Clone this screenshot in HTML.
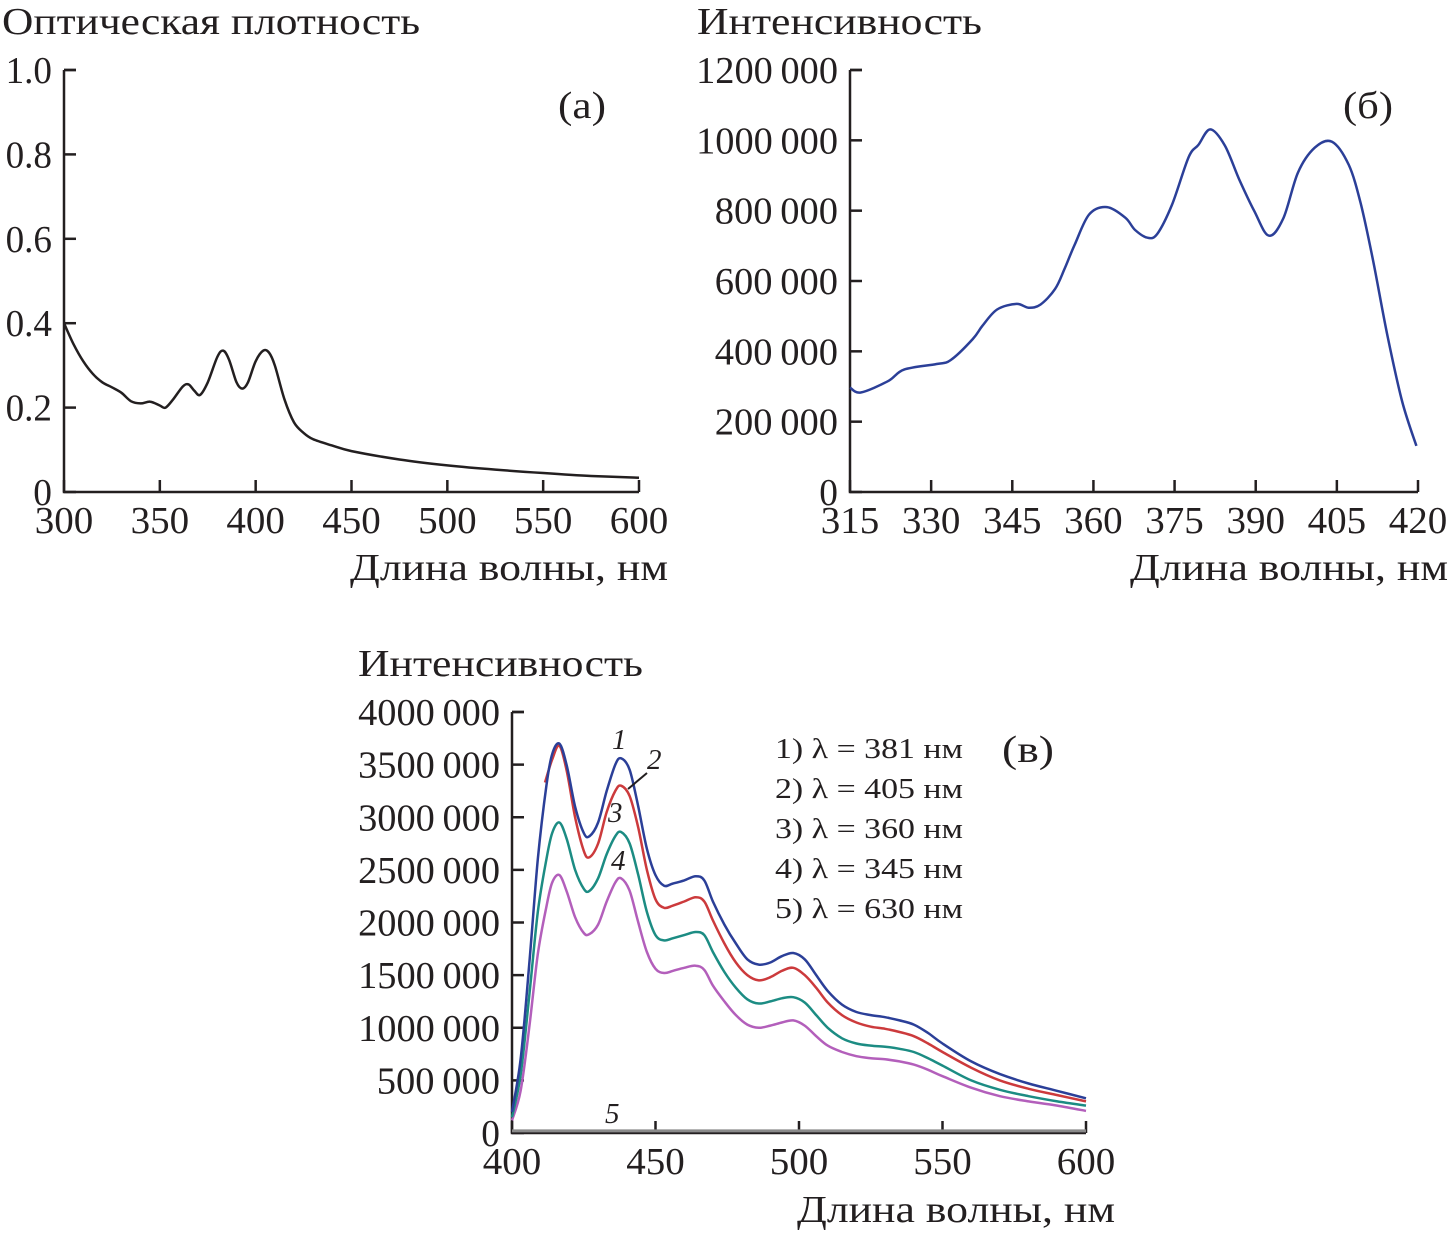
<!DOCTYPE html>
<html><head><meta charset="utf-8">
<style>
body{margin:0;background:#fff;}
svg{display:block;font-family:"Liberation Serif","DejaVu Serif",serif;}
.t{font-size:38px;fill:#231f20;}
.lg{font-size:29px;fill:#231f20;}
</style></head>
<body>
<svg id="s" width="1450" height="1234" viewBox="0 0 1450 1234"></svg>
<script>
// ---- Panel (a) data ----
const aX=[300,305,310,315,320,325,330,335,340,345,350,353,357,362,365,368,371,375,380,383,386,390,393,396,400,404,407,410,415,420,425,430,440,450,475,500,525,550,575,600];
const aY=[0.40,0.35,0.31,0.28,0.26,0.248,0.235,0.215,0.21,0.214,0.205,0.20,0.22,0.25,0.255,0.24,0.23,0.26,0.32,0.335,0.315,0.26,0.245,0.26,0.31,0.335,0.33,0.30,0.22,0.165,0.14,0.125,0.11,0.097,0.077,0.063,0.053,0.045,0.038,0.034];
const aXTicks=[300,350,400,450,500,550,600];
const aYTicks=[0,0.2,0.4,0.6,0.8,1.0];
const aYLabels=["0","0.2","0.4","0.6","0.8","1.0"];
// ---- Panel (b) data ----
const bX=[315,317,322,325,331,333.6,337.7,339.5,342.2,345.8,348,350.2,352.9,354.7,356.5,359.2,362.5,365.9,367.7,370,371.8,374.5,377.6,379.4,381.6,384.3,387,389.7,392.4,395.1,397.8,400.9,404.1,407.2,409.4,411.7,414.4,417.1,419.7];
const bY=[297000,283000,315000,348000,364000,375000,435000,473000,519000,535000,524000,533000,577000,636000,702000,789000,810000,780000,745000,723000,734000,816000,952000,987000,1031000,985000,887000,800000,729000,778000,908000,979000,996000,930000,821000,658000,441000,256000,131000];
const bXTicks=[315,330,345,360,375,390,405,420];
const bYTicks=[0,200000,400000,600000,800000,1000000,1200000];
const bYLabels=["0","200\u2009000","400\u2009000","600\u2009000","800\u2009000","1000\u2009000","1200\u2009000"];
// ---- Panel (c) data (millions) ----
const cX=[400,403,406,409,412,414,416.5,419,422,425,427,430,433,436,438,441,444,447,450,453,456,460,464,467,470,474,478,482,486,490,494,498,502,506,510,515,520,525,530,535,540,545,550,560,570,580,590,600];
const c1=[0.2,0.7,1.6,2.6,3.3,3.6,3.7,3.5,3.1,2.85,2.82,2.95,3.25,3.5,3.56,3.45,3.1,2.7,2.45,2.35,2.37,2.4,2.44,2.4,2.2,1.98,1.8,1.65,1.6,1.62,1.68,1.71,1.65,1.5,1.35,1.22,1.15,1.12,1.1,1.07,1.03,0.95,0.85,0.68,0.56,0.47,0.4,0.33];
const c2X=[411.5,414,416.5,419,422,425,427,430,433,436,438,441,444,447,450,453,456,460,464,467,470,474,478,482,486,490,494,498,502,506,510,515,520,525,530,535,540,545,550,560,570,580,590,600];
const c2=[3.33,3.55,3.68,3.45,3.0,2.68,2.62,2.75,3.05,3.25,3.3,3.2,2.9,2.5,2.22,2.14,2.16,2.2,2.24,2.2,2.02,1.8,1.62,1.5,1.45,1.48,1.54,1.57,1.5,1.38,1.24,1.12,1.05,1.01,0.99,0.96,0.92,0.85,0.77,0.62,0.5,0.42,0.36,0.3];
const c3=[0.15,0.55,1.3,2.1,2.6,2.85,2.95,2.8,2.5,2.32,2.3,2.42,2.65,2.82,2.86,2.75,2.45,2.1,1.88,1.83,1.85,1.88,1.91,1.88,1.72,1.53,1.38,1.27,1.23,1.25,1.28,1.29,1.24,1.12,1.0,0.9,0.85,0.83,0.82,0.8,0.77,0.71,0.64,0.5,0.41,0.35,0.3,0.26];
const c4=[0.12,0.4,1.0,1.7,2.15,2.38,2.45,2.3,2.05,1.9,1.89,1.98,2.2,2.38,2.42,2.3,2.0,1.72,1.56,1.52,1.54,1.57,1.59,1.55,1.4,1.25,1.12,1.03,1.0,1.02,1.05,1.07,1.02,0.92,0.83,0.77,0.73,0.71,0.7,0.68,0.65,0.6,0.54,0.43,0.35,0.3,0.26,0.21];
const c5X=[400,600];
const c5=[0.02,0.02];
const cXTicks=[400,450,500,550,600];
const cYTicks=[0,0.5,1,1.5,2,2.5,3,3.5,4];
const cYLabels=["0","500\u2009000","1000\u2009000","1500\u2009000","2000\u2009000","2500\u2009000","3000\u2009000","3500\u2009000","4000\u2009000"];
const legendLabels=["1) \u03bb = 381 нм","2) \u03bb = 405 нм","3) \u03bb = 360 нм","4) \u03bb = 345 нм","5) \u03bb = 630 нм"];

const NS="http://www.w3.org/2000/svg";
const svg=document.getElementById('s');
function el(tag,attrs,parent){const e=document.createElementNS(NS,tag);for(const k in attrs)e.setAttribute(k,attrs[k]);(parent||svg).appendChild(e);return e;}
function txt(str,x,y,cls,anchor,parent,extra){const e=el('text',Object.assign({x:x,y:y,class:cls,'text-anchor':anchor||'start'},extra||{}),parent);e.textContent=str;return e;}
function fit(e,w){e.setAttribute('textLength',w);e.setAttribute('lengthAdjust','spacingAndGlyphs');}
function smooth(pts){let d='M'+pts[0][0].toFixed(1)+','+pts[0][1].toFixed(1);for(let i=0;i<pts.length-1;i++){const p0=pts[i-1]||pts[i],p1=pts[i],p2=pts[i+1],p3=pts[i+2]||p2;const c1x=p1[0]+(p2[0]-p0[0])/6,c1y=p1[1]+(p2[1]-p0[1])/6,c2x=p2[0]-(p3[0]-p1[0])/6,c2y=p2[1]-(p3[1]-p1[1])/6;d+='C'+c1x.toFixed(1)+','+c1y.toFixed(1)+' '+c2x.toFixed(1)+','+c2y.toFixed(1)+' '+p2[0].toFixed(1)+','+p2[1].toFixed(1);}return d;}
function digitsWidth(s){const n=s.replace(/[^0-9]/g,'').length;const dots=(s.match(/\./g)||[]).length;return n*18.7+(s.indexOf('\u2009')>=0?11:0)+dots*9;}

function panel(cfg){
  const g=el('g',{});
  
  
  const sx=v=>cfg.x0+(v-cfg.xmin)/(cfg.xmax-cfg.xmin)*(cfg.x1-cfg.x0);
  const sy=v=>cfg.y0-(v-cfg.ymin)/(cfg.ymax-cfg.ymin)*(cfg.y0-cfg.y1);
  const ax=el('path',{d:`M${cfg.x0},${cfg.y1}V${cfg.y0}H${cfg.x1}`,stroke:'#231f20','stroke-width':2.5,fill:'none'},g);
  
  
  el('line',{x1:cfg.x0,x2:cfg.x0+12,y1:cfg.y1,y2:cfg.y1,stroke:'#231f20','stroke-width':2.5},g);
  cfg.xt.forEach(v=>{const x=sx(v);el('line',{x1:x,x2:x,y1:cfg.y0,y2:cfg.y0-12,stroke:'#231f20','stroke-width':2.5},g);
    const t=txt(String(v),x,cfg.y0+41,'t','middle',g);
    fit(t,String(v).length*19.5);
    
    });
  cfg.yt.forEach((v,i)=>{const y=sy(v);el('line',{x1:cfg.x0,x2:cfg.x0+12,y1:y,y2:y,stroke:'#231f20','stroke-width':2.5},g);
    const t=txt(cfg.yl[i],cfg.x0-12,y+13,'t','end',g);
    fit(t,digitsWidth(cfg.yl[i]));
    
    });
  cfg.series.forEach(s=>{const pts=s.x.map((xv,i)=>[sx(xv),sy(s.y[i])]);
    const p=el('path',{d:smooth(pts),stroke:s.c,'stroke-width':s.w||2.5,fill:'none'},g);
    
    });
  return {g,sx,sy};
}

panel({name:'chart-a',x0:64,x1:639,y0:492,y1:70,xmin:300,xmax:600,ymin:0,ymax:1,xt:aXTicks,yt:aYTicks,yl:aYLabels,
  series:[{x:aX,y:aY,c:'#231f20',name:'absorbance-line'}]});
panel({name:'chart-b',x0:850,x1:1418,y0:492,y1:70,xmin:315,xmax:420,ymin:0,ymax:1200000,xt:bXTicks,yt:bYTicks,yl:bYLabels,
  series:[{x:bX,y:bY,c:'#2b3f98',name:'excitation-line'}]});
panel({name:'chart-c',x0:512,x1:1086,y0:1133,y1:712,xmin:400,xmax:600,ymin:0,ymax:4,xt:cXTicks,yt:cYTicks,yl:cYLabels,
  series:[{x:c5X,y:c5,c:'#8a8a8a',name:'series-5',w:3},{x:cX,y:c4,c:'#b35fbb',name:'series-4'},{x:cX,y:c3,c:'#1c8c83',name:'series-3'},{x:c2X,y:c2,c:'#cc3a3c',name:'series-2'},{x:cX,y:c1,c:'#2b3f98',name:'series-1'}]});

function label(str,x,y,name,cls,anchor,extra,w){const t=txt(str,x,y,cls||'t',anchor||'start',svg,extra);
  if(w)fit(t,w);
  
  return t;}
label('Оптическая плотность',2,34,'y-axis-title-a','t','start',null,418);
label('(а)',558,118,'panel-label-a','t','start',null,48);
label('Длина волны, нм',668,580,'x-axis-title-a','t','end',null,318);
label('Интенсивность',697,34,'y-axis-title-b','t','start',null,285);
label('(б)',1343,118,'panel-label-b','t','start',null,50);
label('Длина волны, нм',1448,580,'x-axis-title-b','t','end',null,318);
label('Интенсивность',358,676,'y-axis-title-c','t','start',null,285);
label('(в)',1002,762,'panel-label-c','t','start',null,52);
label('Длина волны, нм',1115,1222,'x-axis-title-c','t','end',null,318);
legendLabels.forEach((s,i)=>{label(s,775,758+i*40,'legend-entry','lg','start',null,188);});
label('1',612,749,'curve-label-1','lg','start',{'font-style':'italic'});
label('2',647,769,'curve-label-2','lg','start',{'font-style':'italic'});
label('3',608,822,'curve-label-3','lg','start',{'font-style':'italic'});
label('4',611,870,'curve-label-4','lg','start',{'font-style':'italic'});
label('5',605,1123,'curve-label-5','lg','start',{'font-style':'italic'});
const ld=el('line',{x1:647,y1:773,x2:628,y2:789,stroke:'#231f20','stroke-width':2});


</script>
</body></html>
